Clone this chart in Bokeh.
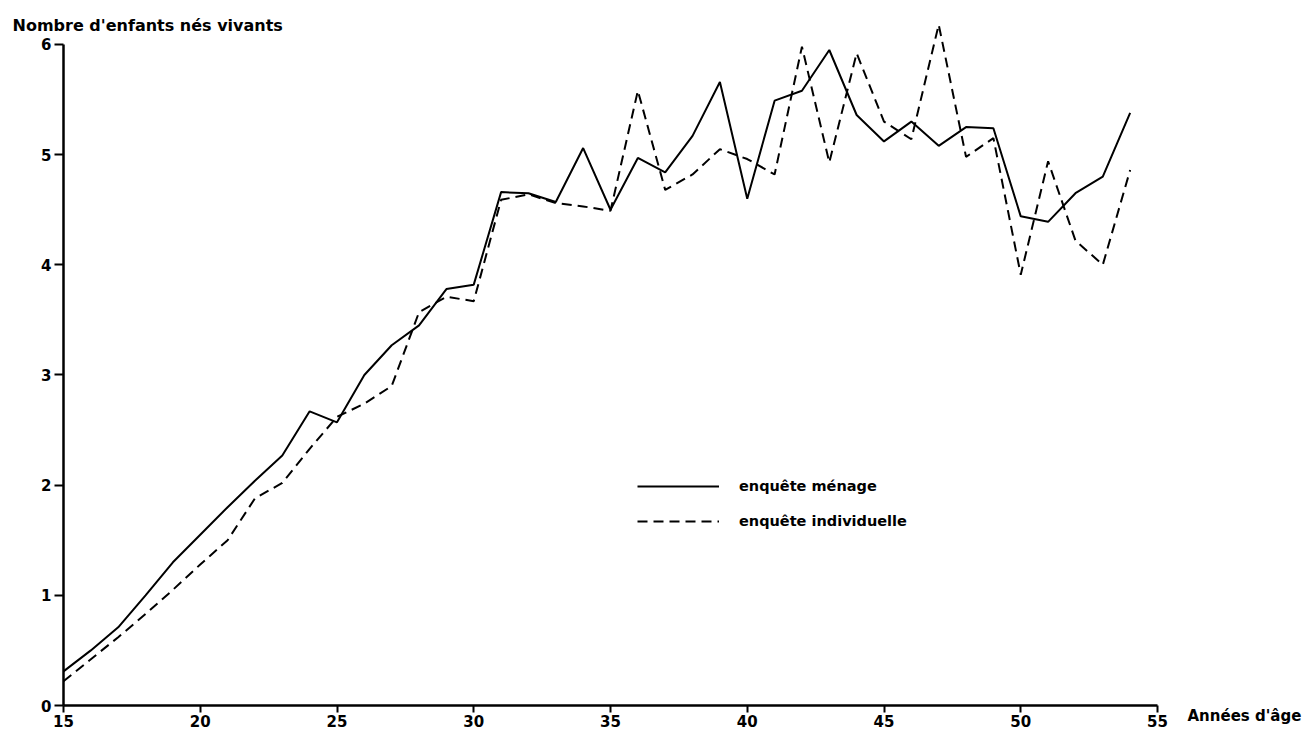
from bokeh.plotting import figure
from bokeh.models import Range1d, FixedTicker, Legend, LegendItem, Label
from bokeh.embed import file_html
from bokeh.resources import INLINE

ages = list(range(15, 55))
menage = [0.31, 0.50, 0.71, 1.00, 1.30, 1.55, 1.80, 2.04, 2.27, 2.67,
          2.57, 3.00, 3.27, 3.45, 3.78, 3.82, 4.66, 4.65, 4.57, 5.06,
          4.50, 4.97, 4.84, 5.17, 5.66, 4.60, 5.49, 5.58, 5.95, 5.36,
          5.12, 5.30, 5.08, 5.25, 5.24, 4.44, 4.39, 4.65, 4.80, 5.38]
individuelle = [0.22, 0.42, 0.62, 0.83, 1.05, 1.28, 1.50, 1.88, 2.02, 2.33,
                2.62, 2.74, 2.90, 3.57, 3.71, 3.67, 4.59, 4.64, 4.56, 4.53,
                4.49, 5.58, 4.68, 4.82, 5.05, 4.96, 4.82, 5.98, 4.93, 5.92,
                5.30, 5.14, 6.18, 4.98, 5.15, 3.91, 4.94, 4.22, 4.00, 4.86]
x_ticks = [15, 20, 25, 30, 35, 40, 45, 50, 55]
y_ticks = [0, 1, 2, 3, 4, 5, 6]
series_labels = ["enquête ménage", "enquête individuelle"]
y_title = "Nombre d'enfants nés vivants"
x_title = "Années d'âge"

FONT = "DejaVu Sans"

# canvas geometry (pixels)
W, H = 1310, 730
X0_PX, Y0_PX = 63, 705          # canvas position of (15, 0)
PX_PER_YEAR = 27.35
PX_PER_UNIT = 110.17

x_range = Range1d(15 - X0_PX / PX_PER_YEAR, 15 + (W - X0_PX) / PX_PER_YEAR)
y_range = Range1d(-(H - Y0_PX) / PX_PER_UNIT, Y0_PX / PX_PER_UNIT)

p = figure(frame_width=W, frame_height=H, x_range=x_range, y_range=y_range,
           output_backend="svg", toolbar_location=None, title=None,
           min_border=0)
p.outline_line_color = None
p.xgrid.visible = False
p.ygrid.visible = False
p.background_fill_color = "white"
p.border_fill_color = "white"

r1 = p.line(ages, menage, line_color="black", line_width=2)
r2 = p.line(ages, individuelle, line_color="black", line_width=2,
            line_dash="10 6")

for ax in (p.xaxis[0], p.yaxis[0]):
    ax.axis_line_width = 2.5
    ax.axis_line_color = "black"
    ax.major_tick_line_width = 2
    ax.major_tick_line_color = "black"
    ax.minor_tick_line_color = None
    ax.major_label_text_font = FONT
    ax.major_label_text_font_style = "bold"
    ax.major_label_text_font_size = "15px"
    ax.major_label_text_color = "black"

xa = p.xaxis[0]
xa.fixed_location = 0
xa.bounds = (15, 55)
xa.ticker = FixedTicker(ticks=x_ticks)
xa.major_tick_in = 0
xa.major_tick_out = 7
xa.major_label_standoff = 2

ya = p.yaxis[0]
ya.fixed_location = 15
ya.bounds = (0, 6)
ya.ticker = FixedTicker(ticks=y_ticks)
ya.major_tick_in = 0
ya.major_tick_out = 9
ya.major_label_standoff = 3

p.add_layout(Label(x=15, y=6, x_offset=-51, y_offset=19, text=y_title,
                   text_font=FONT, text_font_style="bold",
                   text_font_size="16px", text_baseline="alphabetic",
                   text_align="left", text_color="black"))
p.add_layout(Label(x=55, y=0, x_offset=30, y_offset=-10, text=x_title,
                   text_font=FONT, text_font_style="bold",
                   text_font_size="15px", text_baseline="middle",
                   text_align="left", text_color="black"))

legend = Legend(items=[LegendItem(label=series_labels[0], renderers=[r1]),
                       LegendItem(label=series_labels[1], renderers=[r2])],
                location=(637, H - 531), glyph_width=82, glyph_height=20,
                spacing=15, padding=0, margin=0, label_standoff=20,
                label_text_font=FONT, label_text_font_style="bold",
                label_text_font_size="14.5px", label_text_color="black",
                border_line_color=None, background_fill_alpha=0)
p.add_layout(legend)

open("out.html", "w").write(file_html(p, INLINE))
